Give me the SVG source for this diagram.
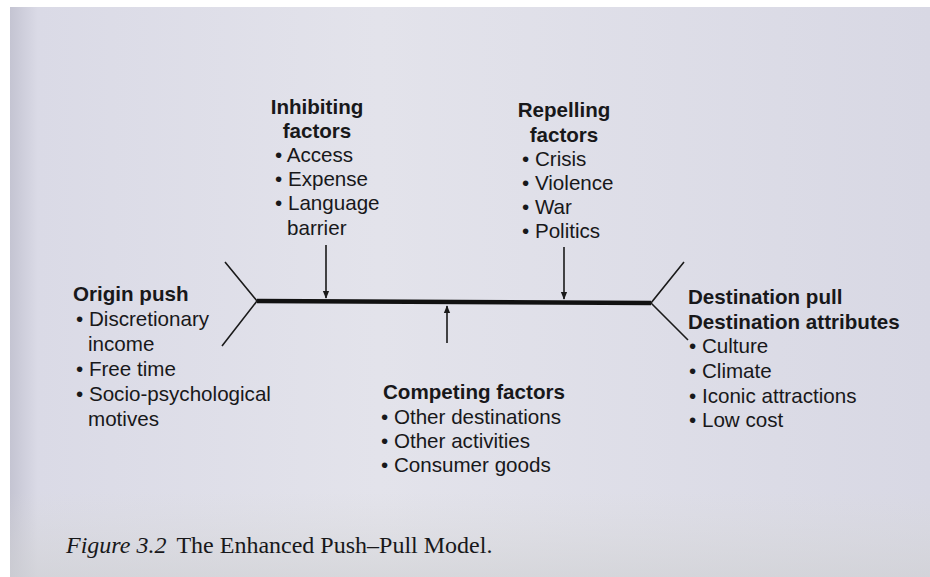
<svg xmlns="http://www.w3.org/2000/svg" width="930" height="577" viewBox="0 0 930 577">
<defs>
<linearGradient id="page" x1="0" y1="0" x2="1" y2="0">
<stop offset="0" stop-color="#c4c4d2"/>
<stop offset="0.03" stop-color="#dadae6"/>
<stop offset="0.4" stop-color="#e3e3eb"/>
<stop offset="1" stop-color="#d8d8e4"/>
</linearGradient>
<linearGradient id="pagev" x1="0" y1="0" x2="0" y2="1">
<stop offset="0" stop-color="#ffffff" stop-opacity="0"/>
<stop offset="0.85" stop-color="#d8d8d6" stop-opacity="0"/>
<stop offset="1" stop-color="#cfd0d2" stop-opacity="0.6"/>
</linearGradient>
<marker id="ah" viewBox="0 0 10 10" refX="9" refY="5" markerWidth="5" markerHeight="5" orient="auto" markerUnits="strokeWidth">
<path d="M0,1 L10,5 L0,9 z" fill="#1a1a1a"/>
</marker>
<style>
text{font-family:"Liberation Sans",Arial,sans-serif;font-size:20.6px;fill:#18181a}
.b{font-weight:bold}
.cap{font-family:"Liberation Serif","Times New Roman",serif;font-size:24px}
.thin{stroke:#1a1a1a;stroke-width:1.6;fill:none}
.arr{stroke:#1a1a1a;stroke-width:1.6;fill:none;marker-end:url(#ah)}
</style>
</defs>
<rect width="930" height="577" fill="#ffffff"/>
<rect x="10" y="7" width="920" height="570" fill="url(#page)"/>
<rect x="10" y="7" width="920" height="570" fill="url(#pagev)"/>

<g id="connectors">
<line x1="257" y1="301" x2="651" y2="303" stroke="#111" stroke-width="4.5"/>
<polyline class="thin" points="225,262 257,301 222,346"/>
<polyline class="thin" points="684,262 651,303 688,340"/>
<line class="arr" x1="326" y1="245" x2="326" y2="298"/>
<line class="arr" x1="564" y1="247" x2="564" y2="299"/>
<line class="arr" x1="447" y1="343" x2="447" y2="306"/>
</g>

<g id="inhibiting">
<text class="b" x="317" y="114" text-anchor="middle">Inhibiting</text>
<text class="b" x="317" y="138" text-anchor="middle">factors</text>
<text x="275" y="162">• Access</text>
<text x="275" y="186">• Expense</text>
<text x="275" y="210">• Language</text>
<text x="287" y="235">barrier</text>
</g>

<g id="repelling">
<text class="b" x="564" y="117" text-anchor="middle">Repelling</text>
<text class="b" x="564" y="142" text-anchor="middle">factors</text>
<text x="522" y="166">• Crisis</text>
<text x="522" y="190">• Violence</text>
<text x="522" y="214">• War</text>
<text x="522" y="238">• Politics</text>
</g>

<g id="origin-push">
<text class="b" x="73" y="301">Origin push</text>
<text x="76" y="326">• Discretionary</text>
<text x="88" y="351">income</text>
<text x="76" y="376">• Free time</text>
<text x="76" y="401">• Socio-psychological</text>
<text x="88" y="426">motives</text>
</g>

<g id="destination-pull">
<text class="b" x="688" y="304">Destination pull</text>
<text class="b" x="688" y="329">Destination attributes</text>
<text x="689" y="353">• Culture</text>
<text x="689" y="378">• Climate</text>
<text x="689" y="403">• Iconic attractions</text>
<text x="689" y="427">• Low cost</text>
</g>

<g id="competing">
<text class="b" x="383" y="399">Competing factors</text>
<text x="381" y="424">• Other destinations</text>
<text x="381" y="448">• Other activities</text>
<text x="381" y="472">• Consumer goods</text>
</g>

<g id="caption">
<text class="cap" x="66" y="553"><tspan font-style="italic">Figure 3.2</tspan><tspan dx="10">The Enhanced Push–Pull Model.</tspan></text>
</g>
</svg>
